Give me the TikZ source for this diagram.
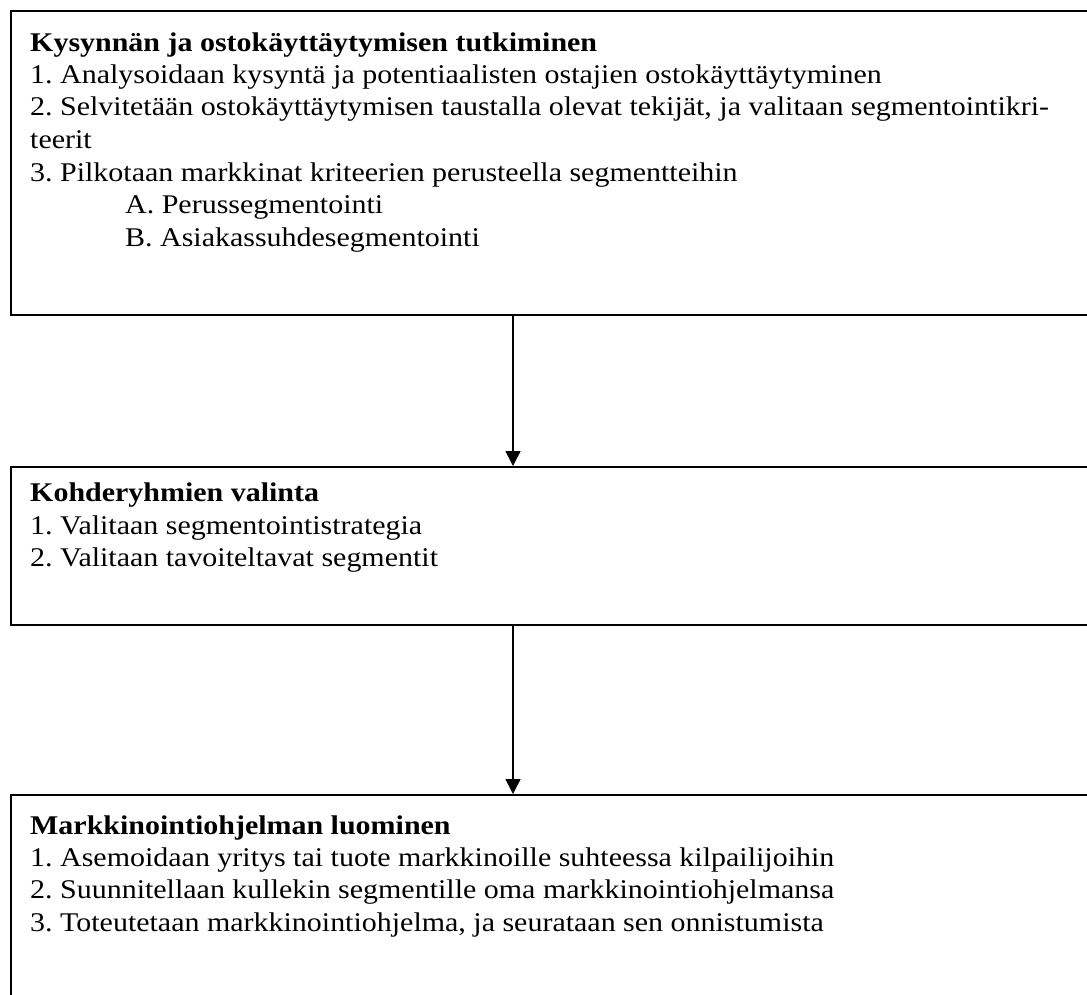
\documentclass[tikz,border=0pt]{standalone}
\usepackage{fontspec}
\setmainfont{Liberation Serif}[FakeStretch=1.11]
\usetikzlibrary{arrows.meta}
\frenchspacing
\tikzset{
  box/.style={draw=black, line width=1.8pt, anchor=north west, inner sep=0pt},
  ln/.style={anchor=base west, inner sep=0pt, font=\fontsize{27}{31}\selectfont},
  hd/.style={ln, font=\fontsize{27}{31}\selectfont\bfseries},
  arr/.style={line width=1.5pt, -{Triangle[width=15pt,length=15pt]}}
}
\begin{document}
\begin{tikzpicture}[x=1pt,y=1pt]
\clip (0,0) rectangle (1087,-994);
\fill[white] (0,0) rectangle (1087,-994);
% boxes
\node[box, minimum width=1090pt, minimum height=304pt] (b1) at (10,-10) {};
\node[box, minimum width=1090pt, minimum height=158pt] (b2) at (10,-466) {};
\node[box, minimum width=1090pt, minimum height=216pt] (b3) at (10,-794) {};
\coordinate (ax) at (513,0);
\draw[arr] (b1.south -| ax) -- (b2.north -| ax);
\draw[arr] (b2.south -| ax) -- (b3.north -| ax);
% box 1 text
\node[hd] (t10) at (30,-51) {Kysynnän ja ostokäyttäytymisen tutkiminen};
\node[ln] (t11) at (30,-83) {1. Analysoidaan kysyntä ja potentiaalisten ostajien ostokäyttäytyminen};
\node[ln] (t12) at (30,-115) {2. Selvitetään ostokäyttäytymisen taustalla olevat tekijät, ja valitaan segmentointikri-};
\node[ln] (t13) at (30,-148) {teerit};
\node[ln] (t14) at (30,-181) {3. Pilkotaan markkinat kriteerien perusteella segmentteihin};
\node[ln] (t15) at (125,-213) {A. Perussegmentointi};
\node[ln] (t16) at (125,-246) {B. Asiakassuhdesegmentointi};
% box 2 text
\node[hd] (t20) at (30,-501) {Kohderyhmien valinta};
\node[ln] (t21) at (30,-534) {1. Valitaan segmentointistrategia};
\node[ln] (t22) at (30,-566) {2. Valitaan tavoiteltavat segmentit};
% box 3 text
\node[hd] (t30) at (30,-834) {Markkinointiohjelman luominen};
\node[ln] (t31) at (30,-866) {1. Asemoidaan yritys tai tuote markkinoille suhteessa kilpailijoihin};
\node[ln] (t32) at (30,-898) {2. Suunnitellaan kullekin segmentille oma markkinointiohjelmansa};
\node[ln] (t33) at (30,-931) {3. Toteutetaan markkinointiohjelma, ja seurataan sen onnistumista};
\end{tikzpicture}
\end{document}
